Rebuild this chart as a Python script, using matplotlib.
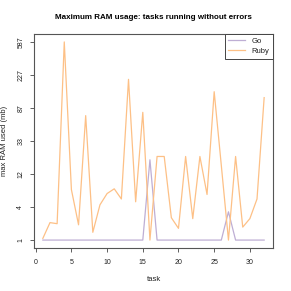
import matplotlib
matplotlib.use("Agg")
import matplotlib.pyplot as plt
import numpy as np

plt.rcParams['font.family'] = ['Liberation Sans', 'DejaVu Sans']

# max RAM used per task (mb)
tasks = list(range(1, 33))
go_ram = [1, 1, 1, 1, 1, 1, 1, 1, 1, 1, 1, 1, 1, 1, 1, 19,
          1, 1, 1, 1, 1, 1, 1, 1, 1, 1, 3.5, 1, 1, 1, 1, 1]
ruby_ram = [1.1, 2.3, 2.2, 587, 7.5, 2.1, 70, 1.5, 4.5, 6.6, 7.7, 5.5, 200, 5, 77, 1,
            21, 21, 2.8, 1.8, 21, 2.7, 21, 6.4, 140, 16, 1, 21, 1.9, 2.7, 5.5, 118]
ytick_labels = ["1", "4", "12", "33", "87", "227", "587"]
xticks = [0, 5, 10, 15, 20, 25, 30]

go_col = "#BEAED4"
ruby_col = "#FDC086"

fig = plt.figure(figsize=(2.91, 2.91), dpi=100)
ax = fig.add_axes([34/291, 1-248/291, (273-34)/291, (248-34)/291])

# y axis is log(x+1)
ax.set_yscale("function", functions=(lambda v: np.log(np.maximum(v, -0.999) + 1),
                                     lambda v: np.exp(v) - 1))

ax.plot(tasks, go_ram, color=go_col, lw=0.9, label="Go")
ax.plot(tasks, ruby_ram, color=ruby_col, lw=0.9, label="Ruby")

lo = np.log(min(min(go_ram), min(ruby_ram)) + 1)
hi = np.log(max(max(go_ram), max(ruby_ram)) + 1)
pad = (hi - lo) * 0.04
ax.set_ylim(np.exp(lo - pad) - 1, np.exp(hi + pad) - 1)
yt = np.exp(np.linspace(lo, hi, len(ytick_labels))) - 1
ax.set_yticks(yt)
ax.set_yticklabels(ytick_labels, rotation=90, va="center")
ax.minorticks_off()

xpad = (max(tasks) - min(tasks)) * 0.04
ax.set_xlim(min(tasks) - xpad, max(tasks) + xpad)
ax.set_xticks(xticks)

ax.tick_params(labelsize=5, length=3, width=0.6, color="#444444",
               labelcolor="#222222")
ax.tick_params(axis="x", pad=5)
ax.tick_params(axis="y", pad=4)
for s in ax.spines.values():
    s.set_color("#555555")
    s.set_linewidth(0.8)

ax.set_xlabel("task", fontsize=5.5, labelpad=7, color="#222222")
ax.set_ylabel("max RAM used (mb)", fontsize=5.5, labelpad=7, color="#222222")
ax.set_title("Maximum RAM usage: tasks running without errors",
             fontsize=5.8, fontweight="bold", pad=11)

leg = ax.legend(loc="upper right", fontsize=5.5, handlelength=2.2,
                borderaxespad=0, fancybox=False, framealpha=1,
                borderpad=0.5, labelspacing=0.3)
leg.get_frame().set_edgecolor("#444444")
leg.get_frame().set_linewidth(0.7)
for t in leg.get_texts():
    t.set_color("#222222")

fig.savefig("out.png", dpi=100)
